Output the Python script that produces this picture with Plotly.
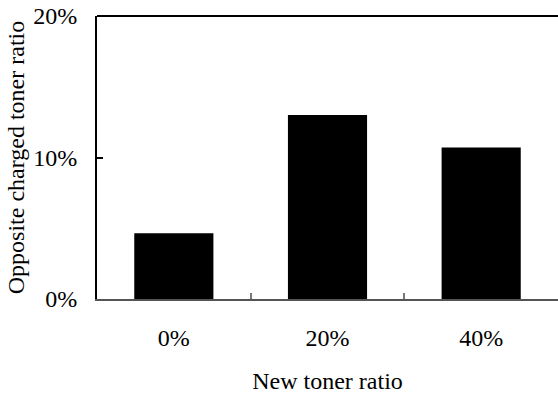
import plotly.graph_objects as go

categories = ["0%", "20%", "40%"]
values = [4.65, 13.0, 10.7]
y_ticks = [0, 10, 20]
y_tick_labels = ["0%", "10%", "20%"]

font = "Liberation Serif, Times New Roman, serif"

fig = go.Figure(go.Bar(x=categories, y=values, marker=dict(color="black", line=dict(width=0)), width=0.515))

fig.update_layout(
    width=558, height=394,
    margin=dict(l=97, r=0, t=16, b=95),
    plot_bgcolor="white", paper_bgcolor="white",
    font=dict(family=font, size=24, color="black"),
    showlegend=False,
    xaxis=dict(
        type="category",
        showline=True, linecolor="#555", linewidth=1.5,
        ticks="inside", tickson="boundaries", ticklen=6, tickcolor="#777", tickwidth=1.5,
        ticklabelstandoff=16,
        tickfont=dict(size=24, family=font),
        title=dict(text="New toner ratio", font=dict(size=24, family=font), standoff=26),
        showgrid=False, zeroline=False,
    ),
    yaxis=dict(
        range=[0, 20],
        tickvals=y_ticks, ticktext=y_tick_labels,
        showline=True, linecolor="black", linewidth=2,
        ticks="inside", ticklen=6, tickcolor="black", tickwidth=1.5,
        ticklabelstandoff=13,
        tickfont=dict(size=24, family=font),
        title=dict(text="Opposite charged toner ratio", font=dict(size=24, family=font), standoff=2),
        showgrid=False, zeroline=False,
    ),
    shapes=[dict(type="line", xref="paper", yref="paper", x0=0, x1=1, y0=1, y1=1,
                 line=dict(color="black", width=2))],
)

fig.write_html("out.html", config={"displayModeBar": False},
               post_script="document.body.style.margin='0';document.body.style.overflow='hidden';")
